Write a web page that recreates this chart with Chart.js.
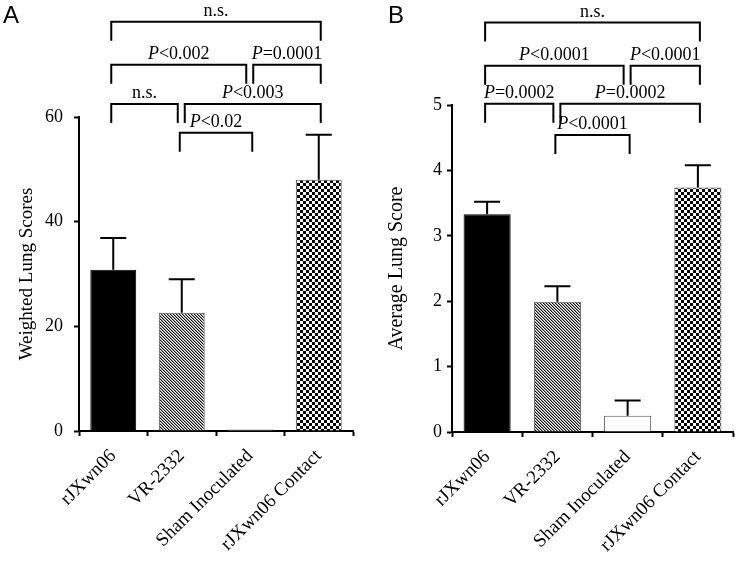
<!DOCTYPE html>
<html>
<head>
<meta charset="utf-8">
<script src="https://cdn.jsdelivr.net/npm/chart.js@4.4.1/dist/chart.umd.min.js"></script>
<style>
html, body { margin: 0; padding: 0; background: #fff; }
#wrap { position: relative; width: 738px; height: 562px; }
#wrap canvas { position: absolute; top: 0; }
</style>
</head>
<body>
<div id="wrap">
  <canvas id="chartA" width="369" height="562" style="left:0"></canvas>
  <canvas id="chartB" width="369" height="562" style="left:369px"></canvas>
</div>
<script>
"use strict";
var groups = ['rJXwn06', 'VR-2332', 'Sham Inoculated', 'rJXwn06 Contact'];

// panel A
var weightedScores = [30.8, 22.6, 0.3, 48.0];
var weightedErrors = [6.1, 6.4, 0, 8.6];
var weightedTicks = [0, 20, 40, 60];
var bracketLabelsA = ['n.s.', 'P<0.002', 'P=0.0001', 'n.s.', 'P<0.003', 'P<0.02'];
var bracketFromA = [0, 0, 2, 0, 1, 1];
var bracketToA = [3, 2, 3, 1, 3, 2];
var bracketLevelA = [78.2, 70, 70, 62.5, 62.5, 57];

// panel B
var averageScores = [3.33, 1.99, 0.25, 3.74];
var averageErrors = [0.19, 0.24, 0.23, 0.34];
var averageTicks = [0, 1, 2, 3, 4, 5];
var bracketLabelsB = ['n.s.', 'P<0.0001', 'P<0.0001', 'P=0.0002', 'P=0.0002', 'P<0.0001'];
var bracketFromB = [0, 0, 2, 0, 1, 1];
var bracketToB = [3, 2, 3, 1, 3, 2];
var bracketLevelB = [6.26, 5.6, 5.6, 5.02, 5.02, 4.54];

var SERIF = '"Liberation Serif", "Times New Roman", serif';

function hatchPattern() {
    var c = document.createElement('canvas');
    c.width = 3; c.height = 3;
    var g = c.getContext('2d');
    g.fillStyle = '#fff';
    g.fillRect(0, 0, 3, 3);
    for (var i = 0; i < 3; i++) {
        g.fillStyle = '#111';
        g.fillRect(i, i, 1, 1);
        g.fillStyle = '#999';
        g.fillRect((i + 1) % 3, i, 1, 1);
    }
    return g.createPattern(c, 'repeat');
}

function checkerPattern() {
    var c = document.createElement('canvas');
    c.width = 6; c.height = 6;
    var g = c.getContext('2d');
    g.fillStyle = '#fff';
    g.fillRect(0, 0, 6, 6);
    g.fillStyle = '#000';
    g.fillRect(0, 0, 3, 3);
    g.fillRect(3, 3, 3, 3);
    return g.createPattern(c, 'repeat');
}

function drawLabel(ctx, text, cx, baseY) {
    var italic = text.charAt(0) === 'P';
    var rest = italic ? text.slice(1) : text;
    ctx.font = '18px ' + SERIF;
    var wRest = ctx.measureText(rest).width;
    var wP = 0;
    if (italic) {
        ctx.font = 'italic 18px ' + SERIF;
        wP = ctx.measureText('P').width;
    }
    var x0 = cx - (wP + wRest) / 2;
    ctx.textAlign = 'left';
    ctx.textBaseline = 'alphabetic';
    if (italic) ctx.fillText('P', x0, baseY);
    ctx.font = '18px ' + SERIF;
    ctx.fillText(rest, x0 + wP, baseY);
}

var annotate = {
    id: 'annotate',
    afterDatasetsDraw: function(chart, args, opts) {
        var ctx = chart.ctx;
        var xs = chart.scales.x, ys = chart.scales.y;
        ctx.save();
        ctx.strokeStyle = '#000';
        ctx.fillStyle = '#000';
        ctx.lineWidth = 2;
        // error bars, upper half only
        opts.values.forEach(function(v, i) {
            if (!opts.errors[i]) return;
            var cx = xs.getPixelForValue(i);
            var base = ys.getPixelForValue(v);
            var top = ys.getPixelForValue(v + opts.errors[i]);
            ctx.beginPath();
            ctx.moveTo(cx, base);
            ctx.lineTo(cx, top);
            ctx.moveTo(cx - 13, top);
            ctx.lineTo(cx + 13, top);
            ctx.stroke();
        });
        // significance brackets
        opts.labels.forEach(function(lab, i) {
            var lvl = opts.level[i];
            var sharedLeft = false, sharedRight = false;
            opts.labels.forEach(function(o, j) {
                if (j === i || opts.level[j] !== lvl) return;
                if (opts.to[j] === opts.from[i]) sharedLeft = true;
                if (opts.from[j] === opts.to[i]) sharedRight = true;
            });
            var x1 = xs.getPixelForValue(opts.from[i]) + (sharedLeft ? 3 : -2);
            var x2 = xs.getPixelForValue(opts.to[i]) + (sharedRight ? -4 : 2);
            var y = ys.getPixelForValue(lvl);
            ctx.beginPath();
            ctx.moveTo(x1, y + 19);
            ctx.lineTo(x1, y);
            ctx.lineTo(x2, y);
            ctx.lineTo(x2, y + 19);
            ctx.stroke();
            drawLabel(ctx, lab, (x1 + x2) / 2, y - 6);
        });
        // panel letter
        ctx.font = '24px "Liberation Sans", Arial, sans-serif';
        ctx.textAlign = 'left';
        ctx.textBaseline = 'alphabetic';
        ctx.fillText(opts.letter, opts.letterX, 23);
        ctx.restore();
    }
};

function makeChart(id, values, errors, ticks, yTitle, br, box) {
    var ctx = document.getElementById(id).getContext('2d');
    return new Chart(ctx, {
        type: 'bar',
        data: {
            labels: groups,
            datasets: [{
                data: values,
                backgroundColor: ['#000', hatchPattern(), '#fff', checkerPattern()],
                borderColor: ['#000', '#555', '#555', '#555'],
                borderWidth: 1,
                barPercentage: 0.67,
                categoryPercentage: 1
            }]
        },
        options: {
            responsive: false,
            animation: false,
            layout: { padding: { top: box.top, right: box.right, left: 0, bottom: 0 } },
            plugins: {
                legend: { display: false },
                tooltip: { enabled: false },
                annotate: {
                    values: values, errors: errors,
                    labels: br.labels, from: br.from, to: br.to, level: br.level,
                    letter: box.letter, letterX: box.letterX
                }
            },
            scales: {
                x: {
                    afterFit: function(s) { s.height = box.xHeight; },
                    grid: { drawOnChartArea: false, drawTicks: true, tickLength: 5, tickWidth: 2, tickColor: '#000' },
                    border: { display: true, color: '#000', width: 2 },
                    ticks: { color: '#000', font: { family: SERIF, size: 19 }, minRotation: 45, maxRotation: 45, padding: 9 }
                },
                y: {
                    min: ticks[0],
                    max: ticks[ticks.length - 1],
                    afterFit: function(s) { s.width = box.yWidth; },
                    afterBuildTicks: function(s) { s.ticks = ticks.map(function(v) { return { value: v }; }); },
                    grid: { drawOnChartArea: false, drawTicks: true, tickLength: 5, tickWidth: 2, tickColor: '#000' },
                    border: { display: true, color: '#000', width: 2 },
                    ticks: { color: '#000', font: { family: SERIF, size: 18 }, padding: box.tickPad },
                    title: { display: true, text: yTitle, color: '#000', font: { family: SERIF, size: box.titleSize }, padding: { top: 16 } }
                }
            }
        },
        plugins: [annotate]
    });
}

makeChart('chartA', weightedScores, weightedErrors, weightedTicks, 'Weighted Lung Scores',
    { labels: bracketLabelsA, from: bracketFromA, to: bracketToA, level: bracketLevelA },
    { top: 117, right: 16, xHeight: 131, yWidth: 79, tickPad: 11, titleSize: 19, letter: 'A', letterX: 3 });

makeChart('chartB', averageScores, averageErrors, averageTicks, 'Average Lung Score',
    { labels: bracketLabelsB, from: bracketFromB, to: bracketToB, level: bracketLevelB },
    { top: 105, right: 5, xHeight: 130, yWidth: 83, tickPad: 5, titleSize: 20, letter: 'B', letterX: 19 });
</script>
</body>
</html>
